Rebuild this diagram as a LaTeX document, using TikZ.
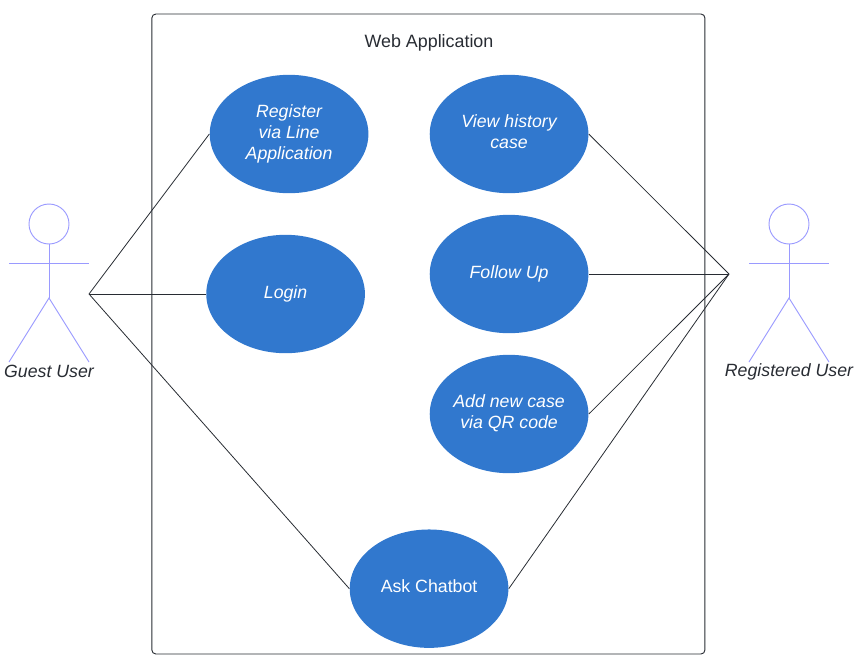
\documentclass[tikz,border=0pt]{standalone}
\usepackage{fontspec}
\setmainfont{Liberation Sans}
\usepackage{tikz}
\usetikzlibrary{shapes.geometric, positioning, calc}
\definecolor{ucblue}{HTML}{3178CE}
\definecolor{actorline}{HTML}{9A9AFF}
\definecolor{inkline}{HTML}{282C33}

\begin{document}
\begin{tikzpicture}[x=1pt, y=-1pt, font=\fontsize{13.4}{15.8}\selectfont, line width=0.6pt]
    \tikzset{
        usecase/.style={ellipse, fill=ucblue, text=white, minimum width=119pt, minimum height=88.8pt, inner sep=0pt, align=center, text depth=3.2pt, font=\fontsize{13.3}{15.8}\selectfont\itshape},
        actorstroke/.style={draw=actorline, line width=0.7pt},
        alabel/.style={text=inkline, font=\fontsize{13.3}{15}\selectfont\itshape, inner sep=0pt},
        link/.style={draw=inkline, line width=0.6pt},
    }
    \useasboundingbox (0,0) rectangle (648.75,501.75);
    % system boundary
    \node[draw=inkline, rounded corners=3pt, line width=0.7pt, minimum width=414.8pt, minimum height=480pt, inner sep=0pt] (system) at (321.3,250.5) {};
    \node[text=inkline, inner sep=0pt] (title) at (321.75,32.2) {Web Application};

    % use cases
    \node[usecase] (register) at (216.8,100.5) {Register\\via Line\\Application};
    \node[usecase] (login) at (214.2,220.5) {Login};
    \node[usecase] (history) at (381.8,100.5) {View history\\case};
    \node[usecase] (follow) at (381.8,205.5) {Follow Up};
    \node[usecase] (addcase) at (381.8,310.5) {Add new case\\via QR code};
    \node[usecase, font=\fontsize{13.3}{15.8}\selectfont] (chatbot) at (321.8,441.5) {Ask Chatbot};

    % guest actor
    \node[draw=actorline, circle, minimum size=30pt, inner sep=0pt, line width=0.7pt] (ghead) at (36.75,168) {};
    \coordinate (ghip) at (36.75,223.5);
    \coordinate (gleft) at (6.75,197.4);
    \coordinate (gright) at (66.75,197.4);
    \coordinate (gfootl) at (6.75,271.5);
    \coordinate (gfootr) at (66.75,271.5);
    \coordinate (ganchor) at (66.75,220.5);
    \draw[actorstroke] (ghead) -- (ghip);
    \draw[actorstroke] (gleft) -- (gright);
    \draw[actorstroke] (gfootl) -- (ghip) -- (gfootr);
    \node[alabel] (guest) at (36.75,278.6) {Guest User};

    % registered actor
    \node[draw=actorline, circle, minimum size=30pt, inner sep=0pt, line width=0.7pt] (rhead) at (591.75,168) {};
    \coordinate (rhip) at (591.75,223.5);
    \coordinate (rleft) at (561.75,197.4);
    \coordinate (rright) at (621.75,197.4);
    \coordinate (rfootl) at (561.75,271.5);
    \coordinate (rfootr) at (621.75,271.5);
    \coordinate (ranchor) at (546.75,205.5);
    \draw[actorstroke] (rhead) -- (rhip);
    \draw[actorstroke] (rleft) -- (rright);
    \draw[actorstroke] (rfootl) -- (rhip) -- (rfootr);
    \node[alabel] (registered) at (591.75,278.6) {Registered User};

    % connectors
    \draw[link] (ganchor) -- (register.west);
    \draw[link] (ganchor) -- (login.west);
    \draw[link] (ganchor) -- (chatbot.west);
    \draw[link] (ranchor) -- (history.east);
    \draw[link] (ranchor) -- (follow.east);
    \draw[link] (ranchor) -- (addcase.east);
    \draw[link] (ranchor) -- (chatbot.east);
\end{tikzpicture}
\end{document}
